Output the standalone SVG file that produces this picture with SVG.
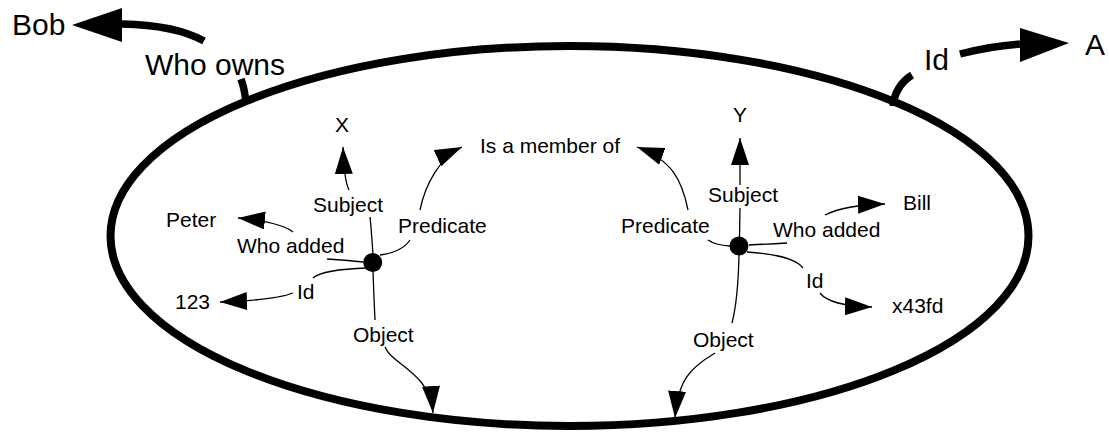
<svg xmlns="http://www.w3.org/2000/svg" width="1109" height="432" viewBox="0 0 1109 432">
<style>
text{font-family:"Liberation Sans",Arial,sans-serif;fill:#000}
.big{font-size:30px}
.sm{font-size:21px}
.thin{fill:none;stroke:#000;stroke-width:1.3}
.thick{fill:none;stroke:#000;stroke-width:7.5}
.head{fill:#000}
</style>
<defs>
<marker id="arr" markerUnits="userSpaceOnUse" viewBox="0 0 27 18" refX="27" refY="9" markerWidth="27" markerHeight="18" orient="auto">
<path d="M0,0 L27,9 L0,18 Z" fill="#000"/>
</marker>
</defs>
<rect width="1109" height="432" fill="#fff"/>
<g id="graph-ellipse">
<ellipse cx="569.5" cy="236" rx="459" ry="190" fill="none" stroke="#000" stroke-width="8"/>
</g>
<g id="connectors">
<path class="thick" d="M246,104 Q245,90 241,79"/>
<path class="thick" d="M204,41 Q175,25 122,24"/>
<polygon class="head" points="122,8 122,42 72,25"/>
<path class="thick" d="M893,106 Q895,86 912,75"/>
<path class="thick" d="M960,54 Q990,46 1020,44"/>
<polygon class="head" points="1020,28 1020,62 1069,43"/>
<path class="thin" d="M373,255 C372,240 371,225 370,217"/>
<path class="thin" marker-end="url(#arr)" d="M349,190 Q344,180 343,147"/>
<path class="thin" d="M380,255 Q402,252 410,240"/>
<path class="thin" marker-end="url(#arr)" d="M420,210 C425,185 440,157 462,147"/>
<path class="thin" d="M363,262 Q345,260 327,259"/>
<path class="thin" marker-end="url(#arr)" d="M293,232 Q280,222 238,218"/>
<path class="thin" d="M367,268 C335,269 320,272 313,278"/>
<path class="thin" marker-end="url(#arr)" d="M293,293 Q275,300 220,302"/>
<path class="thin" d="M373,271 Q374,300 375,320"/>
<path class="thin" marker-end="url(#arr)" d="M385,347 C392,365 430,372 433,413"/>
<path class="thin" d="M739.5,237 L740,208"/>
<path class="thin" marker-end="url(#arr)" d="M740,185 L740,138"/>
<path class="thin" d="M730,246 Q715,245 708,240"/>
<path class="thin" marker-end="url(#arr)" d="M688,210 C682,180 672,160 637,147"/>
<path class="thin" d="M749,245 Q770,244 787,243"/>
<path class="thin" marker-end="url(#arr)" d="M825,215 Q845,205 885,204"/>
<path class="thin" d="M747,252 C775,254 795,258 803,268"/>
<path class="thin" marker-end="url(#arr)" d="M820,293 Q830,306 872,307"/>
<path class="thin" d="M739,255 Q738,300 732,323"/>
<path class="thin" marker-end="url(#arr)" d="M715,353 C690,368 678,380 675,418"/>
</g>
<g id="node-bob"><text class="big" x="12" y="35">Bob</text></g>
<g id="label-who-owns"><text class="big" x="145" y="75">Who owns</text></g>
<g id="label-id-top"><text class="big" x="924" y="70">Id</text></g>
<g id="node-a"><text class="big" x="1085" y="55">A</text></g>
<g id="node-stmt-left"><circle cx="372.7" cy="262.5" r="9.5" fill="#000"/></g>
<g id="node-stmt-right"><circle cx="739" cy="246" r="9.5" fill="#000"/></g>
<g id="node-x"><text class="sm" x="335" y="132">X</text></g>
<g id="node-y"><text class="sm" x="733" y="122">Y</text></g>
<g id="node-member"><text class="sm" x="480" y="153">Is a member of</text></g>
<g id="node-peter"><text class="sm" x="166" y="227">Peter</text></g>
<g id="node-123"><text class="sm" x="175" y="309">123</text></g>
<g id="node-bill"><text class="sm" x="903" y="210">Bill</text></g>
<g id="node-x43fd"><text class="sm" x="892" y="313">x43fd</text></g>
<g id="labels">
<text class="sm" x="313" y="212">Subject</text>
<text class="sm" x="708" y="202">Subject</text>
<text class="sm" x="398" y="233">Predicate</text>
<text class="sm" x="621" y="233">Predicate</text>
<text class="sm" x="237" y="253">Who added</text>
<text class="sm" x="773" y="237">Who added</text>
<text class="sm" x="297" y="299">Id</text>
<text class="sm" x="806" y="288">Id</text>
<text class="sm" x="353" y="342">Object</text>
<text class="sm" x="693" y="347">Object</text>
</g>
</svg>
